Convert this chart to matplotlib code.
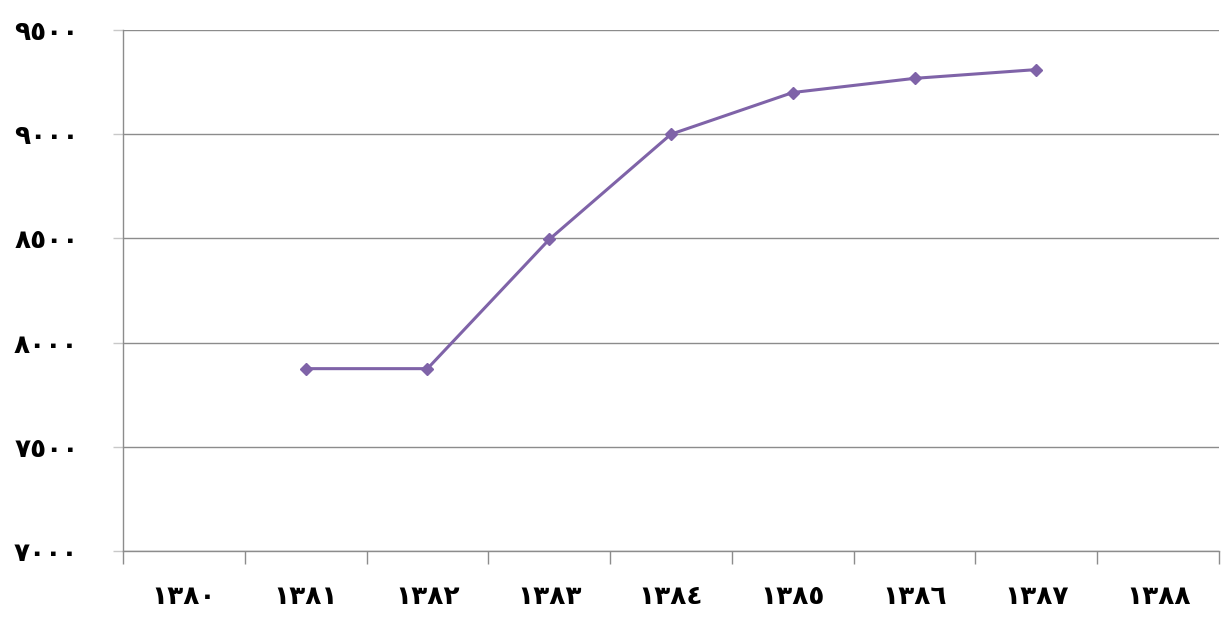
import matplotlib
matplotlib.use('Agg')
import matplotlib.pyplot as plt
from matplotlib.ticker import FixedLocator

plt.rcParams['font.family'] = ['DejaVu Sans']

years = ['١٣٨٠', '١٣٨١', '١٣٨٢', '١٣٨٣', '١٣٨٤', '١٣٨٥', '١٣٨٦', '١٣٨٧', '١٣٨٨']
# values exist only for 1381..1387
idx = [1, 2, 3, 4, 5, 6, 7]
values = [7875, 7875, 8495, 9000, 9200, 9268, 9310]
yticks = [7000, 7500, 8000, 8500, 9000, 9500]
ylabels = ['٧٠٠٠', '٧٥٠٠', '٨٠٠٠', '٨٥٠٠', '٩٠٠٠', '٩٥٠٠']

fig = plt.figure(figsize=(12.26, 6.42), dpi=100)
ax = fig.add_axes([123/1226, 1 - 551/642, (1219 - 123)/1226, (551 - 30)/642])

ax.plot(idx, values, color='#7F63A8', lw=2.2, marker='D', ms=6.5,
        markeredgecolor='#7F63A8', markerfacecolor='#7F63A8')

ax.set_xlim(-0.5, len(years) - 0.5)
ax.set_ylim(7000, 9500)

# category axis: tick marks on boundaries, labels centred in each slot
ax.xaxis.set_major_locator(FixedLocator([i - 0.5 for i in range(len(years) + 1)]))
ax.xaxis.set_minor_locator(FixedLocator(list(range(len(years)))))
ax.set_xticklabels([])
ax.set_xticklabels(years, minor=True, fontsize=19, fontweight='bold')
ax.tick_params(axis='x', which='major', length=9.5, color='#8c8c8c', width=1)
ax.tick_params(axis='x', which='minor', length=0, pad=24)

ax.set_yticks(yticks)
ax.set_yticklabels(ylabels, fontsize=19, fontweight='bold')
ax.tick_params(axis='y', length=7, color='#c8c8c8', width=1, pad=25)

ax.grid(axis='y', color='#8c8c8c', lw=1)
ax.set_axisbelow(True)
for side in ['top', 'right']:
    ax.spines[side].set_visible(False)
for side in ['left', 'bottom']:
    ax.spines[side].set_color('#8c8c8c')
    ax.spines[side].set_linewidth(1)

fig.savefig('out.png', dpi=100, facecolor='white')
